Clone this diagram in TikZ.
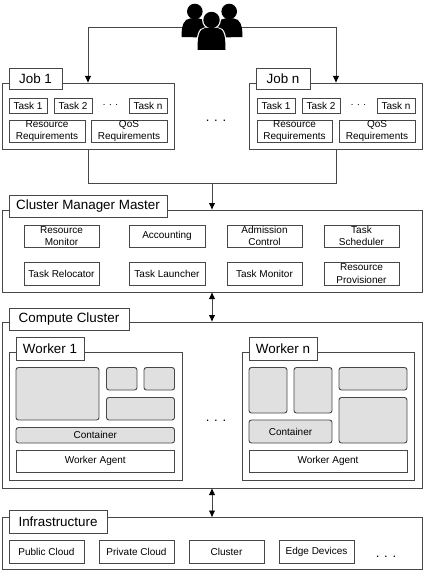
\documentclass[tikz,border=0pt]{standalone}
\usepackage{fontspec}
\setmainfont{Liberation Sans}
\usetikzlibrary{arrows.meta,positioning}
\definecolor{ln}{gray}{0.28}
\definecolor{cfill}{gray}{0.88}
\tikzset{
 x=1pt,y=-1pt,
 every node/.style={inner sep=0pt,outer sep=0pt},
 panel/.style={draw=ln,line width=0.9pt,fill=white,rectangle,anchor=north west},
 titlebox/.style={panel,font=\fontsize{13.4}{15}\selectfont,align=center},
 smallbox/.style={panel,font=\fontsize{10}{12.4}\selectfont,align=center},
 greybox/.style={panel,fill=cfill,rounded corners=2.5pt,font=\fontsize{10}{12}\selectfont,align=center},
 conn/.style={draw=ln,line width=0.9pt},
 darrow/.style={conn,{Latex[length=7pt,width=6.5pt,black]}-{Latex[length=7pt,width=6.5pt,black]}},
 sarrow/.style={conn,-{Latex[length=7pt,width=6.5pt,black]}},
 dots/.style={font=\fontsize{13}{13}\selectfont},
 tinydots/.style={font=\fontsize{9.6}{10}\selectfont}
}
\newcommand{\bx}[7]{\node[#1,minimum width=#4-#3,minimum height=#6-#5] (#2) at (#3,#5) {#7};}
\begin{document}
\begin{tikzpicture}
\useasboundingbox (0,0) rectangle (424,572);
\coordinate (people) at (212,27);
\coordinate (merge) at (212,183);

% Job 1
\bx{panel}{job1}{2}{174}{83}{149}{}
\bx{titlebox}{job1t}{9}{62}{68}{89}{Job 1}
\bx{smallbox}{j1a}{9}{47}{98}{113}{Task 1}
\bx{smallbox}{j1b}{54}{92}{98}{113}{Task 2}
\node[tinydots] (j1d) at (110.5,105) {. . .};
\bx{smallbox}{j1c}{129}{167}{98}{113}{Task n}
\bx{smallbox}{j1r}{9}{85}{120}{142}{Resource\\Requirements}
\bx{smallbox}{j1q}{91}{167}{120}{142}{QoS\\Requirements}
% Job n
\bx{panel}{jobn}{249}{422}{83}{149}{}
\bx{titlebox}{jobnt}{256}{310}{68}{89}{Job n}
\bx{smallbox}{jna}{257}{295}{98}{113}{Task 1}
\bx{smallbox}{jnb}{302}{340}{98}{113}{Task 2}
\node[tinydots] (jnd) at (358.5,105) {. . .};
\bx{smallbox}{jnc}{377}{415}{98}{113}{Task n}
\bx{smallbox}{jnr}{257}{332}{120}{142}{Resource\\Requirements}
\bx{smallbox}{jnq}{339}{415}{120}{142}{QoS\\Requirements}
\node[dots] (jd) at (216,121) {. . .};

% Cluster manager
\bx{panel}{cm}{2}{422}{210}{292}{}
\bx{titlebox}{cmt}{9}{167}{195}{217}{Cluster Manager Master}
\bx{smallbox}{m1}{24}{99}{225}{247}{Resource\\Monitor}
\bx{smallbox}{m2}{129}{205}{225}{247}{Accounting}
\bx{smallbox}{m3}{227}{302}{225}{247}{Admission\\Control}
\bx{smallbox}{m4}{324}{399}{225}{247}{Task\\Scheduler}
\bx{smallbox}{m5}{24}{99}{262}{285}{Task Relocator}
\bx{smallbox}{m6}{129}{205}{262}{285}{Task Launcher}
\bx{smallbox}{m7}{227}{302}{262}{285}{Task Monitor}
\bx{smallbox}{m8}{324}{399}{262}{285}{Resource\\Provisioner}

% Compute cluster
\bx{panel}{cc}{2}{422}{322}{488}{}
\bx{titlebox}{cct}{9}{129}{308}{330}{Compute Cluster}
\bx{panel}{w1}{9}{182}{352.5}{480.5}{}
\bx{titlebox}{w1t}{16}{84}{337.5}{360}{Worker 1}
\bx{greybox}{g1}{16}{99}{367.5}{420}{}
\bx{greybox}{g2}{106.5}{137}{367.5}{390}{}
\bx{greybox}{g3}{144}{174.5}{367.5}{390}{}
\bx{greybox}{g4}{106.5}{174.5}{397.5}{420}{}
\bx{greybox}{g5}{16}{174.5}{427.5}{443}{Container}
\bx{smallbox}{a1}{16}{174.5}{450}{472.5}{Worker Agent}
\bx{panel}{wn}{242}{414}{352.5}{480.5}{}
\bx{titlebox}{wnt}{249}{317}{337.5}{360}{Worker n}
\bx{greybox}{h1}{249}{287}{367.5}{413}{}
\bx{greybox}{h2}{294}{332}{367.5}{413}{}
\bx{greybox}{h3}{339}{407}{367.5}{390}{}
\bx{greybox}{h4}{339}{407}{397.5}{443}{}
\bx{greybox}{h5}{249}{332}{420}{443}{Container}
\bx{smallbox}{an}{249}{407}{450}{472.5}{Worker Agent}
\node[dots] (wd) at (216,421) {. . .};

% Infrastructure
\bx{panel}{inf}{2}{422}{517.5}{569}{}
\bx{titlebox}{inft}{9}{107}{510}{533}{Infrastructure}
\bx{smallbox}{i1}{9}{84}{540}{563}{Public Cloud}
\bx{smallbox}{i2}{99}{174}{540}{563}{Private Cloud}
\bx{smallbox}{i3}{189}{264}{540}{563}{Cluster}
\bx{smallbox}{i4}{279}{354}{540}{563}{Edge Devices}
\node[dots] (id) at (386,557) {. . .};

% Connectors
\draw[sarrow] (people) -| (job1.north -| 88,0);
\draw[sarrow] (people) -| (jobn.north -| 336,0);
\draw[conn] (job1.south -| 88,0) |- (merge);
\draw[conn] (jobn.south -| 336,0) |- (merge);
\draw[sarrow] (merge) -- (merge |- cm.north);
\draw[darrow] (cm.south -| 212,0) -- (cc.north -| 212,0);
\draw[darrow] (cc.south -| 212,0) -- (inf.north -| 212,0);

% People icon
\fill[black] (181.5,37) .. controls (181.5,25) and (184,19) .. (190,18.5) -- (199,18.5)
  .. controls (205,19) and (208,24) .. (208,30) -- (204,37.5) -- cycle;
\fill[black] (242.5,37) .. controls (242.5,25) and (240,19) .. (234,18.5) -- (225,18.5)
  .. controls (219,19) and (216,24) .. (216,30) -- (220,37.5) -- cycle;
\fill[black] (194.8,11.5) circle (7.8);
\fill[black] (229.2,11.5) circle (7.8);
\path[draw=white,line width=2.4pt] (211.5,20) circle (8.2);
\path[draw=white,line width=2.4pt] (197.5,50) .. controls (197.5,36) and (199,29) .. (205,28.5) -- (218,28.5)
  .. controls (224,29) and (225.5,36) .. (225.5,50) -- cycle;
\fill[black] (211.5,20) circle (8.2);
\fill[black] (197.5,50) .. controls (197.5,36) and (199,29) .. (205,28) -- (218,28)
  .. controls (224,29) and (225.5,36) .. (225.5,50) -- cycle;
\end{tikzpicture}
\end{document}
